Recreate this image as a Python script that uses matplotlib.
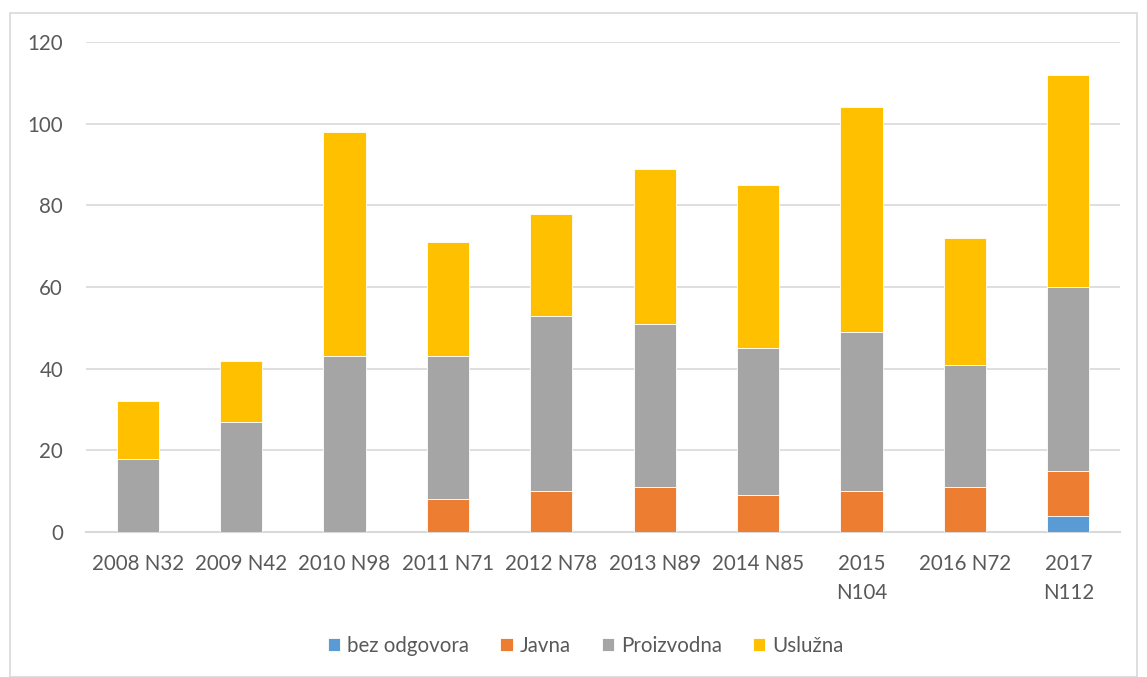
import matplotlib
matplotlib.use("Agg")
import matplotlib.pyplot as plt
import numpy as np
from matplotlib.patches import Rectangle

categories = ["2008 N32", "2009 N42", "2010 N98", "2011 N71", "2012 N78",
              "2013 N89", "2014 N85", "2015\nN104", "2016 N72", "2017\nN112"]
bez_odgovora = [0, 0, 0, 0, 0, 0, 0, 0, 0, 4]
javna = [0, 0, 0, 8, 10, 11, 9, 10, 11, 11]
proizvodna = [18, 27, 43, 35, 43, 40, 36, 39, 30, 45]
usluzna = [14, 15, 55, 28, 25, 38, 40, 55, 31, 52]
yticks = [0, 20, 40, 60, 80, 100, 120]

series = [("bez odgovora", bez_odgovora, "#5B9BD5"),
          ("Javna", javna, "#ED7D31"),
          ("Proizvodna", proizvodna, "#A5A5A5"),
          ("Uslužna", usluzna, "#FFC000")]

plt.rcParams['font.family'] = ['Lato', 'DejaVu Sans']
txt = "#595959"
fs = 14.8

fig = plt.figure(figsize=(11.47, 6.77), dpi=100)
ax = fig.add_axes([86/1147, 145/677, (1120-86)/1147, 490/677])

x = np.arange(len(categories))
bottom = np.zeros(len(categories))
for name, vals, col in series:
    v = np.array(vals, dtype=float)
    ax.bar(x, v, width=0.41, bottom=bottom, color=col, label=name,
           edgecolor="white", linewidth=0.6, zorder=3)
    bottom += v

ax.set_ylim(0, 120)
ax.set_xlim(-0.5, len(categories) - 0.5)
ax.set_yticks(yticks)
ax.set_xticks(x)
ax.set_xticklabels(categories, linespacing=1.55)
ax.yaxis.grid(True, color="#D9D9D9", linewidth=1.2, zorder=0)
ax.set_axisbelow(True)
for s in ["top", "right", "left"]:
    ax.spines[s].set_visible(False)
ax.spines["bottom"].set_color("#D9D9D9")
ax.spines["bottom"].set_linewidth(1.5)
ax.tick_params(axis="both", length=0, labelsize=fs, colors=txt)
ax.tick_params(axis="y", pad=16.5)
ax.tick_params(axis="x", pad=16)

leg = fig.legend(loc="center", bbox_to_anchor=(586/1147, 1 - 646/677), ncol=4,
                 frameon=False, fontsize=fs, handlelength=0.6, handleheight=0.6,
                 handletextpad=0.35, columnspacing=1.5, labelcolor=txt)

fig.patches.append(Rectangle((10/1147, 0), (1137-10)/1147, 1 - 13/677,
                             transform=fig.transFigure, fill=False,
                             edgecolor="#D9D9D9", linewidth=1.2))

fig.savefig("out.png", dpi=100, facecolor="white")
